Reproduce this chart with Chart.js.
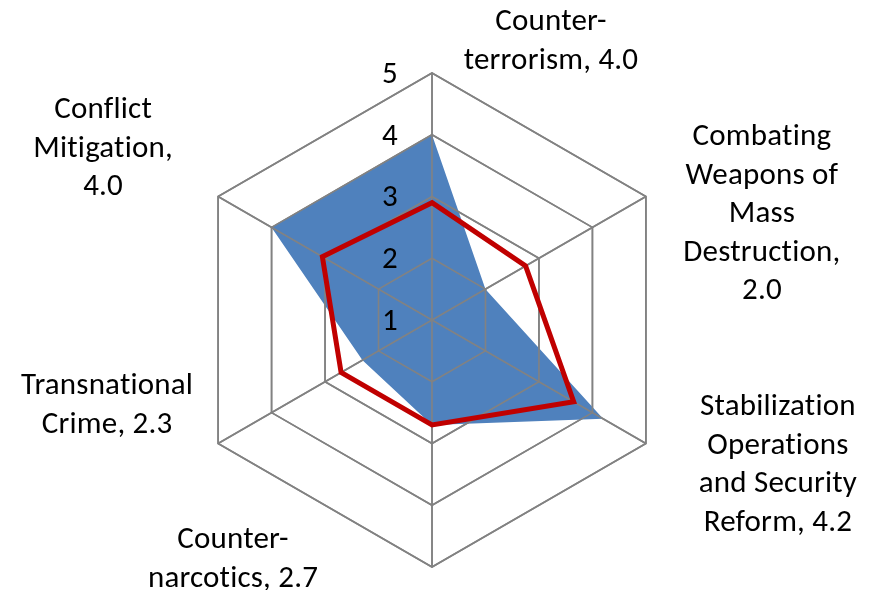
<!DOCTYPE html>
<html>
<head>
<meta charset="utf-8">
<title>Mission areas radar</title>
<script src="https://cdn.jsdelivr.net/npm/chart.js@4.4.0/dist/chart.umd.min.js"></script>
<style>
  html, body { margin: 0; padding: 0; background: #fff; }
  #wrap { width: 878px; height: 590px; }
</style>
</head>
<body>
<div id="wrap"><canvas id="radar-chart"></canvas></div>
<script>
(function () {
    "use strict";

    // axis names, wrapped the way the original shows them
    var categories = [
        ["Counter-", "terrorism, 4.0"],
        ["Combating", "Weapons of", "Mass", "Destruction,", "2.0"],
        ["Stabilization", "Operations", "and Security", "Reform, 4.2"],
        ["Counter-", "narcotics, 2.7"],
        ["Transnational", "Crime, 2.3"],
        ["Conflict", "Mitigation,", "4.0"]
    ];
    var blueValues = [4.0, 2.0, 4.2, 2.7, 2.3, 4.0];
    var redValues = [2.9, 2.75, 3.65, 2.7, 2.7, 3.05];
    var tickLabels = [1, 2, 3, 4, 5];

    var labelFont = "31px Carlito, Lato, sans-serif";
    var lineHeight = 38.5;
    var gridColor = "#828282";

    // label block offset from the outer vertex: [centre x, first baseline]
    var labelOffsets = [
        [119, -43],
        [116, -51.5],
        [132, -28.5],
        [-199, -19],
        [-111, -49.5],
        [-115, -78.5]
    ];

    var overlay = {
        id: "overlay",
        afterDatasetDraw: function (chart, args) {
            // Excel draws the grid over the filled area but under the line
            if (args.index === 0) {
                chart.scales.r.drawGrid();
            }
        },
        afterDraw: function (chart) {
            var scale = chart.scales.r;
            var ctx = chart.ctx;
            ctx.save();
            ctx.fillStyle = "#000";
            ctx.font = labelFont;
            // a hair of spacing keeps Lato from joining "ti"
            ctx.letterSpacing = "0.2px";

            ctx.textAlign = "right";
            ctx.textBaseline = "middle";
            tickLabels.forEach(function (t) {
                var d = scale.getDistanceFromCenterForValue(t);
                ctx.fillText(String(t), scale.xCenter - 34, scale.yCenter - d + 2);
            });

            ctx.textAlign = "center";
            ctx.textBaseline = "alphabetic";
            categories.forEach(function (lines, i) {
                var p = scale.getPointPosition(i, scale.drawingArea);
                var o = labelOffsets[i];
                lines.forEach(function (line, j) {
                    ctx.fillText(line, p.x + o[0], p.y + o[1] + j * lineHeight);
                });
            });
            ctx.restore();
        }
    };

    var ctx1 = document.getElementById("radar-chart").getContext("2d");
    var myChart1 = new Chart(ctx1, {
        type: "radar",
        data: {
            labels: categories,
            datasets: [{
                    label: "Rating",
                    data: blueValues,
                    backgroundColor: "#4F81BD",
                    borderWidth: 0,
                    fill: "start",
                    pointRadius: 0,
                    order: 2
                },
                {
                    label: "Baseline",
                    data: redValues,
                    borderColor: "#C00000",
                    borderWidth: 5,
                    borderJoinStyle: "miter",
                    fill: false,
                    pointRadius: 0,
                    order: 1
                }
            ]
        },
        options: {
            responsive: true,
            maintainAspectRatio: false,
            animation: false,
            layout: {
                padding: { top: 73, bottom: 23, left: 185, right: 199 }
            },
            plugins: {
                legend: { display: false },
                tooltip: { enabled: false }
            },
            scales: {
                r: {
                    min: 1,
                    max: 5,
                    ticks: { stepSize: 1, display: false },
                    pointLabels: { display: false },
                    grid: { color: gridColor, lineWidth: 1.6 },
                    angleLines: { color: gridColor, lineWidth: 1.6 }
                }
            }
        },
        plugins: [overlay]
    });

})();
</script>
</body>
</html>
